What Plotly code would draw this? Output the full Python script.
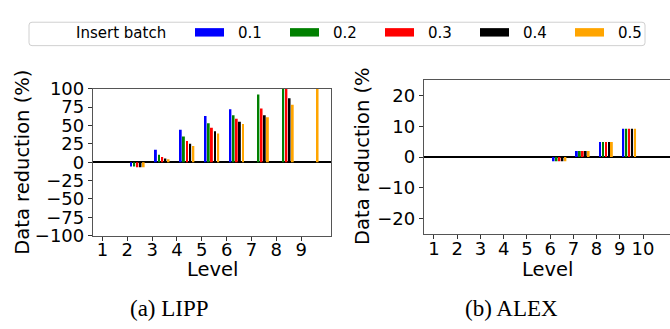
import plotly.graph_objects as go

W, H = 670, 329

# ---------------- data ----------------
batches = ["0.1", "0.2", "0.3", "0.4", "0.5"]
colors = ["blue", "green", "red", "black", "orange"]

lipp_levels = [1, 2, 3, 4, 5, 6, 7, 8, 9]
lipp_b01 = [None, -6, 17, 44, 63, 72, None, None, None]
lipp_b02 = [None, -6, 10, 35, 53, 64, 92, 100, None]
lipp_b03 = [None, -7, 7, 29, 47, 59, 73, 100, None]
lipp_b04 = [None, -7, 5, 25, 42, 55, 64, 87, None]
lipp_b05 = [None, -7, 4, 22, 39, 52, 61, 78, 100]

alex_levels = [1, 2, 3, 4, 5, 6, 7, 8, 9, 10]
alex_b01 = [None, None, None, None, None, -1.4, 2.0, 4.9, 9.2, None]
alex_b02 = [None, None, None, None, None, -1.4, 2.0, 4.9, 9.2, None]
alex_b03 = [None, None, None, None, None, -1.4, 2.0, 4.9, 9.2, None]
alex_b04 = [None, None, None, None, None, -1.4, 2.0, 4.9, 9.2, None]
alex_b05 = [None, None, None, None, None, -1.4, 2.0, 4.9, 9.2, None]

lipp_yticks = [-100, -75, -50, -25, 0, 25, 50, 75, 100]
alex_yticks = [-20, -10, 0, 10, 20]

# ---------------- helpers ----------------
def px(x):
    return x / W

def py(y):
    return 1 - y / H

bar_offsets = [0.15, 0.277, 0.404, 0.531, 0.658]
bar_width = 0.08

fig = go.Figure()

lipp_series = [lipp_b01, lipp_b02, lipp_b03, lipp_b04, lipp_b05]
alex_series = [alex_b01, alex_b02, alex_b03, alex_b04, alex_b05]

for i, (vals, c, name) in enumerate(zip(lipp_series, colors, batches)):
    fig.add_trace(go.Bar(
        x=[l + bar_offsets[i] for l in lipp_levels], y=vals, width=bar_width,
        marker=dict(color=c, line=dict(width=0)), name=name, showlegend=False,
        xaxis="x", yaxis="y"))

for i, (vals, c, name) in enumerate(zip(alex_series, colors, batches)):
    fig.add_trace(go.Bar(
        x=[l + bar_offsets[i] for l in alex_levels], y=vals, width=bar_width,
        marker=dict(color=c, line=dict(width=0)), name=name, showlegend=False,
        xaxis="x2", yaxis="y2"))

tick_font = dict(family="DejaVu Sans", size=18, color="black")
title_font = dict(family="DejaVu Sans", size=19.5, color="black")
spine = "#555555"

common_x = dict(showgrid=False, zeroline=False, showline=True, linecolor=spine, linewidth=1.3,
                ticks="outside", ticklen=4, tickwidth=1, tickcolor="#333", tickfont=tick_font,
                ticklabelstandoff=-6)
common_y = dict(showgrid=False, zeroline=True, zerolinecolor="black", zerolinewidth=1.5,
                showline=True, linecolor=spine, linewidth=1.3,
                ticks="outside", ticklen=4, tickwidth=1, tickcolor="#333", tickfont=tick_font)

fig.update_layout(
    width=W, height=H,
    margin=dict(l=0, r=0, t=0, b=0),
    paper_bgcolor="white", plot_bgcolor="white",
    showlegend=False,
    barmode="overlay",
    xaxis=dict(domain=[px(93), px(331)], range=[0.62, 10.2], tickvals=lipp_levels,
               mirror=True, anchor="y", **common_x),
    yaxis=dict(domain=[py(240), py(83)], range=[-100, 100], tickvals=lipp_yticks,
               mirror=True, anchor="x", **common_y),
    xaxis2=dict(domain=[px(424), 1.0], range=[0.57, 11.16], tickvals=alex_levels,
                mirror=True, anchor="y2", **common_x),
    yaxis2=dict(domain=[py(238), py(74)], range=[-25, 25], tickvals=alex_yticks,
                mirror=False, anchor="x2", **common_y),
)

annotations = []
# axis titles
annotations.append(dict(text="Level", x=px(212), y=py(276), xref="paper", yref="paper",
                        showarrow=False, font=title_font, xanchor="center", yanchor="middle"))
annotations.append(dict(text="Level", x=px(547), y=py(276), xref="paper", yref="paper",
                        showarrow=False, font=title_font, xanchor="center", yanchor="middle"))
annotations.append(dict(text="Data reduction (%)", x=px(22.5), y=py(161.5), xref="paper", yref="paper",
                        showarrow=False, font=title_font, textangle=-90,
                        xanchor="center", yanchor="middle"))
annotations.append(dict(text="Data reduction (%", x=px(363), y=py(252), xref="paper", yref="paper",
                        showarrow=False, font=title_font, textangle=-90,
                        xanchor="center", yanchor="bottom"))
# sub captions
cap_font = dict(family="Liberation Serif", size=23, color="black")
annotations.append(dict(text="(a) LIPP", x=px(169), y=py(318), xref="paper", yref="paper",
                        showarrow=False, font=cap_font, xanchor="center", yanchor="middle"))
annotations.append(dict(text="(b) ALEX", x=px(511), y=py(318), xref="paper", yref="paper",
                        showarrow=False, font=cap_font, xanchor="center", yanchor="middle"))

# manual legend
leg_font = dict(family="DejaVu Sans", size=15, color="black")
annotations.append(dict(text="Insert batch", x=px(120.5), y=py(23.5), xref="paper", yref="paper",
                        showarrow=False, font=leg_font, xanchor="center", yanchor="middle"))
shapes = []
x0, x1, y0, y1, r = 29, 645, 12, 37, 3
path = (f"M {px(x0+r)},{py(y0)} L {px(x1-r)},{py(y0)} Q {px(x1)},{py(y0)} {px(x1)},{py(y0+r)} "
        f"L {px(x1)},{py(y1-r)} Q {px(x1)},{py(y1)} {px(x1-r)},{py(y1)} "
        f"L {px(x0+r)},{py(y1)} Q {px(x0)},{py(y1)} {px(x0)},{py(y1-r)} "
        f"L {px(x0)},{py(y0+r)} Q {px(x0)},{py(y0)} {px(x0+r)},{py(y0)} Z")
shapes.append(dict(type="path", path=path, xref="paper", yref="paper",
                   line=dict(color="#d0d0d0", width=1), fillcolor="white", layer="below"))
for i, (c, name) in enumerate(zip(colors, batches)):
    sx = 195 + 95 * i
    shapes.append(dict(type="rect", xref="paper", yref="paper",
                       x0=px(sx), x1=px(sx + 29), y0=py(27.3), y1=py(18.3),
                       fillcolor=c, line=dict(width=0)))
    annotations.append(dict(text=name, x=px(sx + 41), y=py(23.5), xref="paper", yref="paper",
                            showarrow=False, font=leg_font, xanchor="left", yanchor="middle"))

fig.update_layout(annotations=annotations, shapes=shapes)

fig.write_html("out.html")
